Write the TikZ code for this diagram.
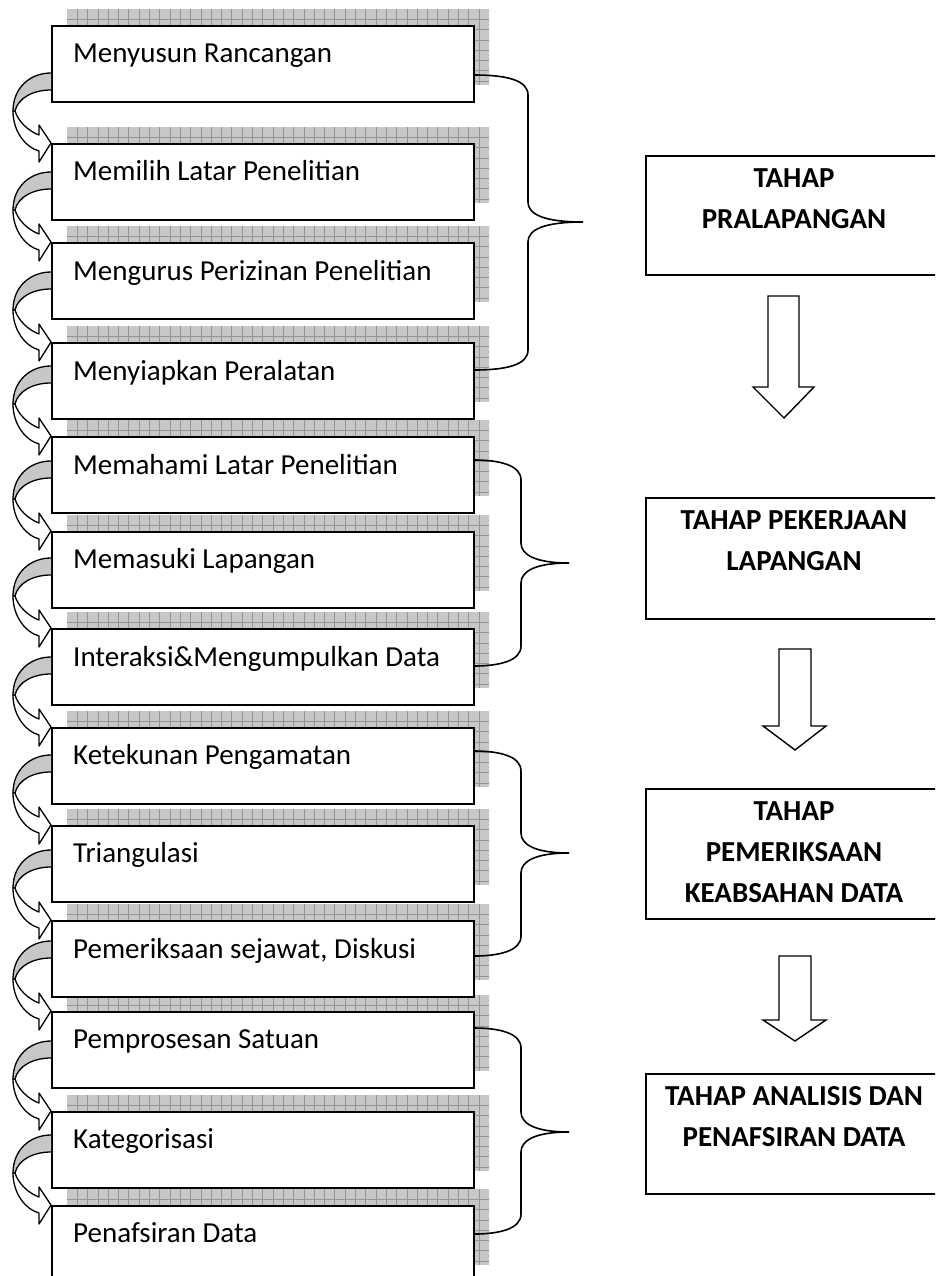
\documentclass[tikz,border=0pt]{standalone}
\usepackage{fontspec}
\setmainfont{Carlito}
\newcommand\curvarrow[1]{%
  \filldraw[arrline, fill=black!22] (51,#1-70) .. controls (30,#1-70) and (13,#1-55) .. (13,#1-32)
     -- (15,#1-32) .. controls (18,#1-45) and (33,#1-53) .. (51,#1-53);
  \filldraw[arrline, fill=white] (13,#1-32) .. controls (13,#1-12) and (25,#1+4) .. (39,#1+8)
     -- (39,#1+19) -- (51,#1) -- (39,#1-18) -- (39,#1-8)
     .. controls (28,#1-12) and (18,#1-22) .. (15,#1-32) -- cycle;}
\newcommand\bracedraw[5]{%
  \draw[bracel] (474,#1) .. controls (#2-22,#1) and (#2,#1+5) .. (#2,#1+20)
     -- (#2,#3-20) .. controls (#2,#3-8) and (#2+15,#3) .. (#4,#3)
     .. controls (#2+15,#3) and (#2,#3+8) .. (#2,#3+20)
     -- (#2,#5-20) .. controls (#2,#5-5) and (#2-22,#5) .. (474,#5);}
\begin{document}
\begin{tikzpicture}[x=1pt,y=-1pt,
  lbox/.style={draw=black, line width=1.6pt, fill=white, minimum width=422pt, minimum height=76pt, anchor=north west, inner sep=0pt},
  rbox/.style={draw=black, line width=2.4pt, fill=white, minimum width=299pt, anchor=north west, inner sep=0pt},
  ltext/.style={anchor=base west, inner sep=0pt, font=\fontsize{29}{35}\selectfont},
  rtext/.style={anchor=north, inner sep=0pt, align=center, font=\fontsize{29}{41}\selectfont\bfseries},
  shadowfill/.style={fill=black!22},
  gridl/.style={draw=black!42, line width=0.7pt},
  arrline/.style={draw=black, line width=1.3pt, line join=round},
  bracel/.style={draw=black, line width=1.6pt},
  barrow/.style={draw=black, line width=1.4pt, fill=white, line join=miter}]
\clip (0,0) rectangle (935,1276);
% shadows
\foreach \t in {25,143,242,342,436,531,628,727,825,920,1011,1111,1205} {
  \begin{scope}
    \clip (67,\t-16) rectangle (489,\t+60);
    \fill[shadowfill] (67,\t-16) rectangle (489,\t+60);
    \foreach \k in {1,...,41} \draw[gridl] (67+10.3*\k,\t-16) -- ++(0,76);
    \foreach \k in {1,...,7} \draw[gridl] (67,\t-16+10.3*\k) -- ++(422,0);
  \end{scope}
}
% left boxes
\node[lbox] (b1) at (51,25) {};
\node[lbox] (b2) at (51,143) {};
\node[lbox] (b3) at (51,242) {};
\node[lbox] (b4) at (51,342) {};
\node[lbox] (b5) at (51,436) {};
\node[lbox] (b6) at (51,531) {};
\node[lbox] (b7) at (51,628) {};
\node[lbox] (b8) at (51,727) {};
\node[lbox] (b9) at (51,825) {};
\node[lbox] (b10) at (51,920) {};
\node[lbox] (b11) at (51,1011) {};
\node[lbox] (b12) at (51,1111) {};
\node[lbox] (b13) at (51,1205) {};
\node[ltext] (t1) at (73,63) {Menyusun Rancangan};
\node[ltext] (t2) at (73,181) {Memilih Latar Penelitian};
\node[ltext] (t3) at (73,280) {Mengurus Perizinan Penelitian};
\node[ltext] (t4) at (73,380) {Menyiapkan Peralatan};
\node[ltext] (t5) at (73,474) {Memahami Latar Penelitian};
\node[ltext] (t6) at (73,568) {Memasuki Lapangan};
\node[ltext] (t7) at (73,666) {Interaksi\&Mengumpulkan Data};
\node[ltext] (t8) at (73,764) {Ketekunan Pengamatan};
\node[ltext] (t9) at (73,862) {Triangulasi};
\node[ltext] (t10) at (73,958) {Pemeriksaan sejawat, Diskusi};
\node[ltext] (t11) at (73,1048) {Pemprosesan Satuan};
\node[ltext] (t12) at (73,1148) {Kategorisasi};
\node[ltext] (t13) at (73,1242) {Penafsiran Data};
% curved arrows
\foreach \t in {143,242,342,436,531,628,727,825,920,1011,1111,1205} {\curvarrow{\t}}
% braces
\bracedraw{75}{528}{222}{583}{370}
\bracedraw{460}{521}{563}{569}{666}
\bracedraw{751}{521}{853}{569}{956}
\bracedraw{1028}{521}{1132}{569}{1234}
% right boxes
\node[rbox, minimum height=119pt] (r1) at (645,155) {};
\node[rbox, minimum height=121pt] (r2) at (645,497) {};
\node[rbox, minimum height=130pt] (r3) at (645,788) {};
\node[rbox, minimum height=120pt] (r4) at (645,1073) {};
\node[rtext] (rt1) at (794,168.5) {TAHAP\\PRALAPANGAN};
\node[rtext] (rt2) at (794,510) {TAHAP PEKERJAAN\\LAPANGAN};
\node[rtext] (rt3) at (794,801.5) {TAHAP\\PEMERIKSAAN\\KEABSAHAN DATA};
\node[rtext] (rt4) at (794,1086.5) {TAHAP ANALISIS DAN\\PENAFSIRAN DATA};
% block arrows
\draw[barrow] (768,296) -- (799,296) -- (799,387) -- (814,387) -- (784,418) -- (753,387) -- (768,387) -- cycle;
\draw[barrow] (779,649) -- (811,649) -- (811,726) -- (826,726) -- (795,750) -- (763,726) -- (779,726) -- cycle;
\draw[barrow] (779,956) -- (811,956) -- (811,1020) -- (826,1020) -- (795,1041) -- (763,1020) -- (779,1020) -- cycle;
\end{tikzpicture}
\end{document}
